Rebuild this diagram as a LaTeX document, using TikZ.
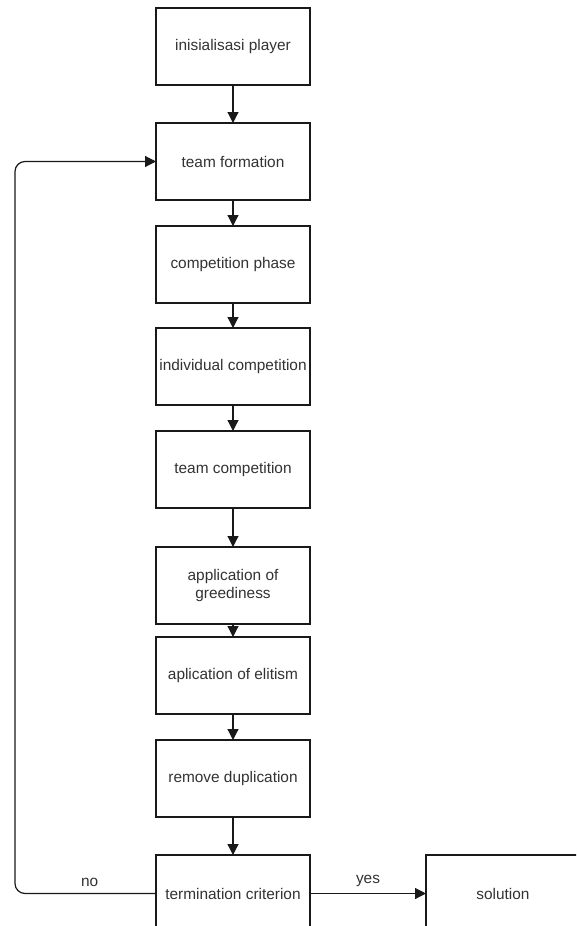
\documentclass[tikz,border=0pt]{standalone}
\usepackage{fontspec}
\setmainfont{Liberation Sans}
\usepackage{xcolor}
\usepackage{tikz}
\usetikzlibrary{arrows.meta, positioning}
\definecolor{lineblack}{RGB}{25, 25, 25}
\definecolor{textgray}{RGB}{50, 50, 50}

\tikzset{
  stepbox/.style={draw=lineblack, line width=1.3pt, minimum width=154pt,
    minimum height=77pt, inner sep=1pt, outer sep=0pt, align=center,
    text=textgray, font=\fontsize{15.4}{18}\selectfont},
  flow/.style={draw=lineblack, line width=1.2pt, -{Triangle[length=11pt, width=11pt]}},
  lbl/.style={text=textgray, font=\fontsize{15.4}{18}\selectfont}
}

\begin{document}
\begin{tikzpicture}[x=1pt, y=1pt]
  \useasboundingbox (0,0) rectangle (576,-926);
  \clip (0,0) rectangle (576,-926);
  % main column of steps
  \node[stepbox] (init) at (233,-46.5) {inisialisasi player};
  \node[stepbox, below=38pt of init] (team) {team formation};
  \node[stepbox, below=26pt of team] (comp) {competition phase};
  \node[stepbox, below=25pt of comp] (indiv) {individual competition};
  \node[stepbox, below=26pt of indiv] (teamcomp) {team competition};
  \node[stepbox, below=39pt of teamcomp] (greedy) {application of\\greediness};
  \node[stepbox, below=13pt of greedy] (elit) {aplication of elitism};
  \node[stepbox, below=26pt of elit] (dupl) {remove duplication};
  \node[stepbox, below=38pt of dupl] (term) {termination criterion};
  \node[stepbox, right=116pt of term] (sol) {solution};
  \coordinate (rail) at (15,0);

  \draw[flow] (init) -- (team);
  \draw[flow] (team) -- (comp);
  \draw[flow] (comp) -- (indiv);
  \draw[flow] (indiv) -- (teamcomp);
  \draw[flow] (teamcomp) -- (greedy);
  \draw[flow] (greedy) -- (elit);
  \draw[flow] (elit) -- (dupl);
  \draw[flow] (dupl) -- (term);
  \draw[flow] (term) -- node[lbl, above=3pt] {yes} (sol);
  % back to team formation
  \draw[flow, rounded corners=10pt] (term.west)
    -- node[lbl, above=3pt, pos=0.47] {no} (term.west -| rail)
    -- (team.west -| rail) -- (team.west);
\end{tikzpicture}
\end{document}
